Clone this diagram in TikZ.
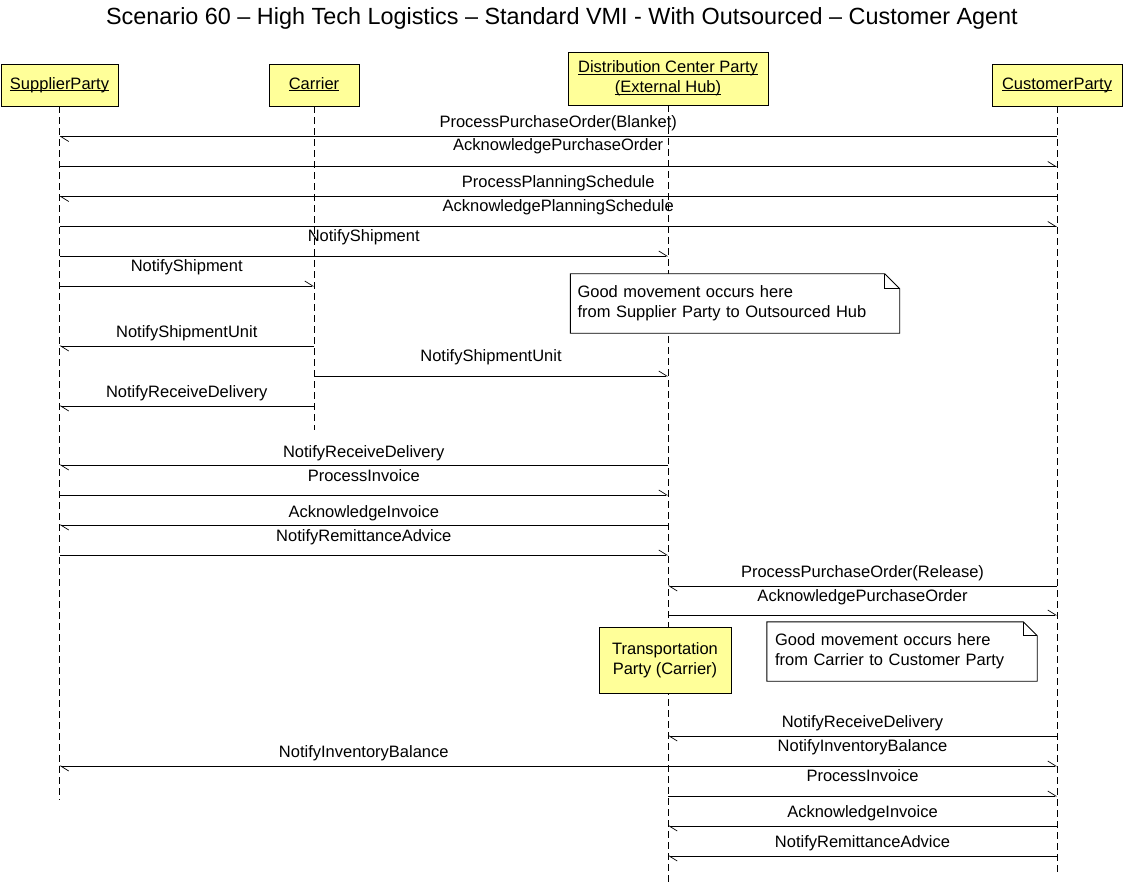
\documentclass[tikz,border=0pt]{standalone}
\usepackage{fontspec}
\setmainfont{Liberation Sans}
\usetikzlibrary{arrows.meta,calc}
\definecolor{boxyellow}{RGB}{255,255,153}
\newcommand\myul[1]{\setbox0\hbox{#1}\rlap{\rule[-2pt]{\wd0}{0.9pt}}\box0}
\newcommand\msgline[6]{%
  \draw[msg] (#2 |- 0,#4) -- (#3 |- 0,#4);
  \node[lbl] (#1) at ($(#2 |- 0,#5)!0.5!(#3 |- 0,#5)$) {#6};
}
\tikzset{
  txt/.style={font=\fontsize{16.5}{20}\selectfont},
  actor/.style={txt, draw=black, line width=0.9pt, fill=boxyellow, inner sep=0pt, align=center},
  life/.style={line width=0.9pt, dash pattern=on 7pt off 4pt},
  msg/.style={line width=0.9pt, -{Straight Barb[left,length=8pt,width=10pt,line width=0.7pt]}},
  lbl/.style={txt, anchor=base, inner sep=0pt},
  notebox/.style={txt, inner sep=0pt, align=left},
  notedraw/.style={draw=black, line width=0.9pt, fill=white},
}
\begin{document}
\begin{tikzpicture}[x=1pt,y=-1pt]
\useasboundingbox[fill=white] (0,0) rectangle (1123,882);
\node[txt, font=\fontsize{23.4}{26}\selectfont, anchor=base, inner sep=0pt] (title) at (562,25) {Scenario 60 – High Tech Logistics – Standard VMI - With Outsourced – Customer Agent};
% actors
\node[actor, minimum width=117pt, minimum height=42pt, text height=12pt, text depth=3.5pt] (sup) at (59.5,85) {\myul{SupplierParty}};
\node[actor, minimum width=90pt, minimum height=42pt, text height=12pt, text depth=3.5pt] (car) at (314,85) {\myul{Carrier}};
\node[actor, minimum width=200pt, minimum height=53pt] (dc) at (668,78.5) {\myul{Distribution Center Party}\\\myul{(External Hub)}};
\node[actor, minimum width=130pt, minimum height=42pt, text height=12pt, text depth=3.5pt] (cus) at (1057,85) {\myul{CustomerParty}};
% lifeline ends
\coordinate (supE) at (sup.south |- 0,800);
\coordinate (carE) at (car.south |- 0,430);
\coordinate (dcE) at (dc.south |- 0,882);
\coordinate (cusE) at (cus.south |- 0,876);
\draw[life] (sup.south) -- (supE);
\draw[life] (car.south) -- (carE);
\draw[life] (dc.south) -- (dcE);
\draw[life] (cus.south) -- (cusE);
% messages
\msgline{m1}{cus}{sup}{136.5}{128}{ProcessPurchaseOrder(Blanket)}
\msgline{m2}{sup}{cus}{166.5}{151}{AcknowledgePurchaseOrder}
\msgline{m3}{cus}{sup}{196.5}{187.5}{ProcessPlanningSchedule}
\msgline{m4}{sup}{cus}{226.5}{211.5}{AcknowledgePlanningSchedule}
\msgline{m5}{sup}{dc}{256}{241.5}{NotifyShipment}
\msgline{m6}{sup}{car}{286}{271.5}{NotifyShipment}
\msgline{m7}{car}{sup}{346}{337.5}{NotifyShipmentUnit}
\msgline{m8}{car}{dc}{376}{361.5}{NotifyShipmentUnit}
\msgline{m9}{car}{sup}{406}{397.5}{NotifyReceiveDelivery}
\msgline{m10}{dc}{sup}{465}{457.5}{NotifyReceiveDelivery}
\msgline{m11}{sup}{dc}{495}{481.5}{ProcessInvoice}
\msgline{m12}{dc}{sup}{525}{517.5}{AcknowledgeInvoice}
\msgline{m13}{sup}{dc}{555}{541.5}{NotifyRemittanceAdvice}
\msgline{m14}{cus}{dc}{586}{577.5}{ProcessPurchaseOrder(Release)}
\msgline{m15}{dc}{cus}{615}{601.5}{AcknowledgePurchaseOrder}
\msgline{m16}{cus}{dc}{736}{727.5}{NotifyReceiveDelivery}
\msgline{m17}{dc}{cus}{766}{751.5}{NotifyInventoryBalance}
\msgline{m18}{dc}{sup}{766}{757.5}{NotifyInventoryBalance}
\msgline{m19}{dc}{cus}{796}{781.5}{ProcessInvoice}
\msgline{m20}{cus}{dc}{826}{817.5}{AcknowledgeInvoice}
\msgline{m21}{cus}{dc}{856}{847.5}{NotifyRemittanceAdvice}
% transportation party box
\node[actor, minimum width=132pt, minimum height=66pt] (tp) at (665,660) {Transportation\\Party (Carrier)};
% notes
\node[notebox, minimum width=329pt, minimum height=59pt, text width=315pt, inner xsep=7pt] (n1) at (735,303.5) {};
\draw[notedraw] (n1.north west) -- ([xshift=-15pt]n1.north east) -- ([yshift=-15pt]n1.north east) -- (n1.south east) -- (n1.south west) -- cycle;
\draw[line width=0.7pt] ([xshift=-15pt]n1.north east) -- ([xshift=-15pt,yshift=-15pt]n1.north east) -- ([yshift=-15pt]n1.north east);
\node[notebox, text width=315pt, anchor=west] (n1t) at ([xshift=7pt]n1.west) {Good movement occurs here\\from Supplier Party to Outsourced Hub};
\node[notebox, minimum width=270pt, minimum height=59pt] (n2) at (902,651.5) {};
\draw[notedraw] (n2.north west) -- ([xshift=-14pt]n2.north east) -- ([yshift=-14pt]n2.north east) -- (n2.south east) -- (n2.south west) -- cycle;
\draw[line width=0.7pt] ([xshift=-14pt]n2.north east) -- ([xshift=-14pt,yshift=-14pt]n2.north east) -- ([yshift=-14pt]n2.north east);
\node[notebox, text width=256pt, anchor=west] (n2t) at ([xshift=8pt]n2.west) {Good movement occurs here\\from Carrier to Customer Party};
\end{tikzpicture}
\end{document}
